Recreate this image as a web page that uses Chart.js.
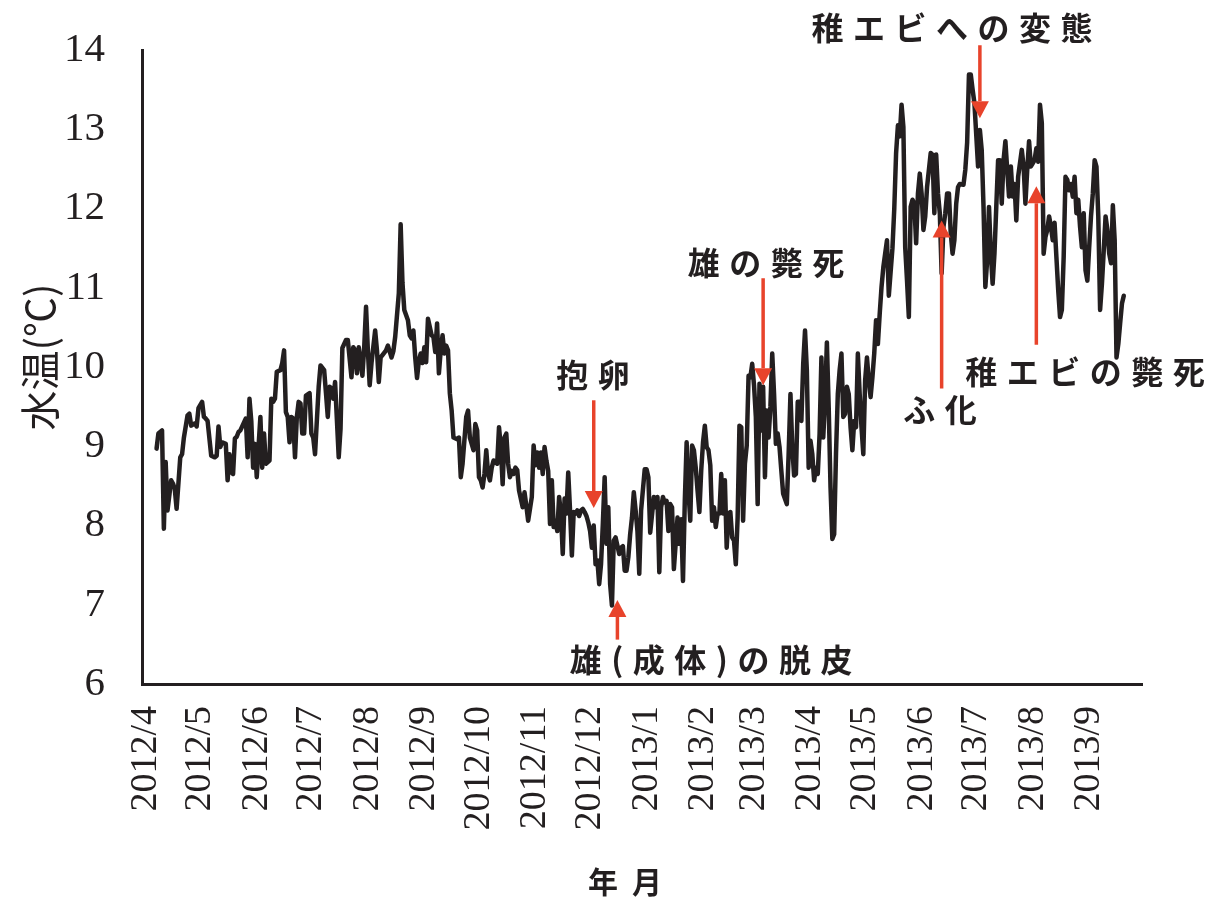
<!DOCTYPE html>
<html>
<head>
<meta charset="utf-8">
<script src="https://cdn.jsdelivr.net/npm/chart.js@4.4.1/dist/chart.umd.min.js"></script>
<style>
  html, body { margin: 0; padding: 0; background: #ffffff; }
  #wrap { width: 1214px; height: 902px; }
</style>
</head>
<body>
<div id="wrap"><canvas id="c" width="1214" height="902"></canvas></div>
<script>
// Daily water temperature, April 2012 – September 2013.
// Day numbers count from 2012/4/1 (day 0).
const SERIES_START = Date.UTC(2012, 3, 1);

const monthLabels = ['2012/4','2012/5','2012/6','2012/7','2012/8','2012/9','2012/10','2012/11','2012/12',
                     '2013/1','2013/2','2013/3','2013/4','2013/5','2013/6','2013/7','2013/8','2013/9'];

const yTickValues = [6, 7, 8, 9, 10, 11, 12, 13, 14];

const dayIndex = [
  6,7,9,10,11,12,14,15,16,17,19,20,21,23,24,25,27,28,29,31,32,33,34,36,38,39,40,41,42,44,45,46,47,48,49,50,
  51,52,54,55,56,57,58,59,60,61,62,63,64,65,66,68,69,70,71,72,74,75,76,77,78,79,80,81,82,83,84,85,86,87,88,90,
  91,92,93,95,96,98,99,100,101,102,103,104,106,107,108,110,111,113,114,115,116,117,119,120,121,122,123,124,126,127,128,129,130,132,
  133,135,136,137,139,140,141,142,144,145,146,147,148,149,150,151,152,153,154,155,157,158,159,160,161,162,163,164,165,166,167,168,
  169,171,172,173,174,176,177,178,180,181,182,183,184,185,186,187,188,189,190,191,193,194,195,196,197,198,199,200,201,202,203,204,
  205,207,208,209,210,211,212,213,214,215,216,217,218,219,220,221,222,223,224,225,226,227,228,229,230,231,232,233,234,235,236,237,
  238,239,240,241,242,243,244,245,246,247,248,249,250,251,252,253,254,255,256,257,258,260,261,262,263,264,265,266,267,268,269,270,
  271,272,274,275,276,277,279,280,281,282,283,284,285,286,287,288,289,290,292,293,294,295,296,297,298,299,300,301,302,303,304,305,
  306,307,308,309,310,311,312,313,314,315,316,317,318,319,320,321,322,323,324,325,326,327,328,329,330,331,332,333,334,335,336,337,
  338,339,340,341,342,343,344,345,346,347,348,349,350,352,353,354,355,356,357,358,359,360,361,362,363,364,365,366,367,368,369,370,
  371,372,373,374,375,376,377,378,379,380,381,382,383,384,385,386,387,388,389,390,391,392,393,394,395,396,397,398,399,400,401,402,
  403,404,405,406,407,408,410,411,412,413,414,415,416,417,418,419,420,421,422,423,424,425,426,427,428,429,431,432,433,434,435,436,
  437,438,439,440,441,442,443,444,445,446,447,449,450,451,452,453,454,455,457,458,459,460,461,462,463,464,465,466,467,468,469,470,
  471,472,473,474,475,476,477,478,479,481,482,483,484,485,486,487,488,489,490,491,492,493,494,495,496,497,498,499,500,501,502,503,
  504,505,506,507,508,509,510,511,512,513,514,515,516,517,518,519,520,521,522,523,524,525,526,527,528,529,530,531,532,533,534,535,
  536,537
];

const waterTemp = [
  8.97,9.16,9.20,7.96,8.80,8.19,8.57,8.53,8.46,8.21,8.86,8.90,9.11,9.39,9.41,9.26,9.29,9.25,9.48,9.56,9.37,9.35,9.32,8.88,8.86,8.88,9.25,8.99,9.05,9.03,8.57,8.90,8.67,8.65,9.10,9.12,
  9.18,9.20,9.30,9.35,8.86,9.60,9.32,8.73,9.03,8.61,9.00,9.37,8.73,9.16,8.78,8.82,9.60,9.56,9.60,9.94,9.96,10.05,10.21,9.43,9.37,9.05,9.37,9.35,8.86,9.37,9.56,9.54,9.16,9.16,9.64,9.67,
  9.16,9.11,8.90,9.75,10.02,9.96,9.67,9.37,9.75,9.73,9.60,9.81,8.86,9.22,10.24,10.34,10.34,9.87,10.25,10.21,9.92,10.25,9.89,10.25,10.76,10.21,9.77,10.05,10.46,10.21,9.81,10.12,10.15,10.21,
  10.27,10.12,10.20,10.38,10.93,11.80,11.06,10.72,10.59,10.40,10.36,10.46,10.12,9.86,10.08,10.17,10.05,10.25,10.06,10.61,10.40,10.38,10.19,10.55,9.92,10.21,10.40,10.17,10.27,10.21,9.67,9.45,
  9.11,9.09,9.11,8.61,8.78,9.37,9.45,9.11,8.95,9.28,9.20,8.61,8.57,8.48,8.65,8.95,8.65,8.57,8.73,8.82,8.78,9.24,8.99,8.52,9.11,9.16,8.78,8.61,8.69,8.65,8.73,8.70,
  8.44,8.23,8.42,8.25,8.06,8.21,8.36,9.01,8.76,8.92,8.73,8.92,8.65,8.99,8.82,8.69,8.02,8.57,7.98,8.06,7.93,8.36,8.15,7.64,8.34,8.15,8.67,8.19,7.62,8.17,8.15,8.19,
  8.12,8.19,8.21,8.17,8.12,8.04,7.93,7.72,8.00,7.51,7.56,7.26,7.51,8.02,8.61,7.77,8.23,7.26,6.99,7.81,7.85,7.64,7.72,7.74,7.43,7.43,7.60,7.89,8.10,8.42,8.19,7.93,
  7.39,8.19,8.71,8.71,8.61,7.91,8.36,8.23,8.36,7.41,8.23,8.36,8.29,8.31,7.93,8.27,8.23,7.45,8.10,7.77,8.08,7.30,8.31,9.05,8.44,8.06,9.01,8.95,8.73,8.44,8.17,8.69,
  9.05,9.26,8.99,8.95,8.76,8.06,8.23,7.98,8.15,8.15,8.65,8.15,8.57,7.72,8.15,8.17,7.85,7.81,7.51,8.10,9.26,9.24,8.06,8.78,9.01,9.89,9.87,10.04,9.77,9.37,8.27,9.79,
  9.20,9.75,8.61,9.45,9.11,9.50,10.17,9.66,9.03,9.16,8.99,8.69,8.40,8.27,8.90,9.66,8.99,8.63,8.65,9.56,9.56,9.32,10.04,10.46,9.96,8.73,9.07,8.90,8.57,8.73,8.65,9.16,
  10.12,9.11,9.58,10.31,9.49,8.48,7.83,7.89,8.90,9.66,9.96,10.17,9.37,9.41,9.75,9.66,9.24,8.95,9.32,9.24,10.17,9.66,9.24,8.90,9.83,10.12,9.83,9.62,9.87,10.17,10.59,10.29,
  10.67,11.01,11.26,11.43,11.60,10.90,11.50,12.00,12.70,13.05,12.91,13.31,13.03,11.51,11.09,10.63,12.02,12.11,12.06,11.56,12.19,12.44,12.19,11.73,11.90,12.27,12.70,12.68,11.94,12.68,12.19,11.94,
  11.18,11.77,11.94,12.19,12.19,11.69,11.43,11.60,12.06,12.27,12.31,12.30,12.49,12.83,13.69,13.69,13.50,13.33,12.53,12.99,12.74,12.02,11.01,11.35,12.02,11.43,11.05,11.43,12.02,12.61,12.61,12.06,
  12.61,12.85,12.49,12.15,12.53,12.15,12.31,11.85,12.40,12.74,12.53,12.06,12.49,12.85,12.53,12.57,12.61,12.76,12.59,13.31,13.08,11.43,11.64,11.73,11.90,11.77,11.60,11.82,11.39,10.97,10.63,10.72,
  11.39,12.40,12.36,12.23,12.31,12.15,12.40,11.94,12.11,11.77,11.51,11.94,11.22,11.09,11.51,11.90,12.19,12.61,12.53,11.90,10.72,11.05,11.47,11.90,11.73,11.43,11.31,12.04,11.60,10.12,10.29,10.55,
  10.80,10.90
];

// Life-history events marked with arrows: day of the event, arrow tip and tail temperatures.
const eventText = ['稚エビへの変態', '雄の斃死', '抱卵', '雄(成体)の脱皮', 'ふ化', '稚エビの斃死'];
const eventDay  = [458, 339, 246, 259, 437, 489];
const arrowTip  = [13.14, 9.77, 8.22, 7.06, 11.85, 12.28];
const arrowTail = [14.06, 11.12, 9.58, 6.56, 9.73, 10.28];

// Where each event caption sits (day, temperature units).
const captionDay  = [442.7, 340.6, 245.6, 310.4, 436.1, 515.7];
const captionTemp = [14.28, 11.32, 9.90, 6.30, 9.46, 9.94];

const monthStartDays = monthLabels.map(s => {
  const [y, m] = s.split('/').map(Number);
  return Math.round((Date.UTC(y, m - 1, 1) - SERIES_START) / 86400000);
});

const INK = '#231f20';
const RED = '#e8432b';
const JP = '"Noto Sans CJK JP", "Noto Sans", sans-serif';
const SERIF = '"Liberation Serif", "DejaVu Serif", serif';

function spacedText(ctx, text, cx, cy, spacing) {
  ctx.letterSpacing = spacing + 'px';
  const w = ctx.measureText(text).width - spacing;
  ctx.textAlign = 'left';
  ctx.fillText(text, cx - w / 2, cy);
  ctx.letterSpacing = '0px';
}

const overlayPlugin = {
  id: 'overlay',
  afterDatasetsDraw(chart) {
    const ctx = chart.ctx;
    const xs = chart.scales.x, ys = chart.scales.y;
    ctx.save();
    // arrows
    eventDay.forEach((d, i) => {
      const x = xs.getPixelForValue(d);
      const yTip = ys.getPixelForValue(arrowTip[i]);
      const yTail = ys.getPixelForValue(arrowTail[i]);
      const dir = yTip > yTail ? 1 : -1;
      const head = 17, half = 9;
      ctx.strokeStyle = RED;
      ctx.fillStyle = RED;
      ctx.lineWidth = 3.5;
      ctx.beginPath();
      ctx.moveTo(x, yTail);
      ctx.lineTo(x, yTip - dir * head);
      ctx.stroke();
      ctx.beginPath();
      ctx.moveTo(x, yTip);
      ctx.lineTo(x - half, yTip - dir * head);
      ctx.lineTo(x + half, yTip - dir * head);
      ctx.closePath();
      ctx.fill();
    });
    // captions
    ctx.fillStyle = INK;
    ctx.textBaseline = 'middle';
    ctx.font = '700 32px ' + JP;
    eventText.forEach((t, i) => {
      const x = xs.getPixelForValue(captionDay[i]);
      const y = ys.getPixelForValue(captionTemp[i]);
      spacedText(ctx, t, x, y, 9.5);
    });
    // axis titles
    ctx.font = '700 30px ' + JP;
    spacedText(ctx, '年月', xs.left + (xs.right - xs.left) * 0.483, 882, 14);
    ctx.save();
    ctx.translate(40, (ys.top + ys.bottom) / 2 - 10);
    ctx.rotate(-Math.PI / 2);
    ctx.font = '400 40px ' + JP;
    ctx.textAlign = 'center';
    ctx.fillText('水温(℃)', 0, 0);
    ctx.restore();
    ctx.restore();
  }
};

new Chart(document.getElementById('c'), {
  type: 'line',
  data: {
    datasets: [{
      data: dayIndex.map((d, i) => ({ x: d, y: waterTemp[i] })),
      borderColor: INK,
      borderWidth: 4.5,
      pointRadius: 0,
      tension: 0,
      borderJoinStyle: 'round',
      borderCapStyle: 'round',
      fill: false
    }]
  },
  options: {
    responsive: false,
    animation: false,
    events: [],
    layout: { padding: { top: 50, right: 72, bottom: 0, left: 0 } },
    plugins: { legend: { display: false }, tooltip: { enabled: false } },
    scales: {
      x: {
        type: 'linear',
        min: -2,
        max: 547,
        grid: { display: false, drawTicks: false },
        border: { display: true, color: INK, width: 3 },
        afterBuildTicks(scale) { scale.ticks = monthStartDays.map(v => ({ value: v })); },
        afterFit(scale) { scale.height = 218; scale.paddingLeft = 0; scale.paddingRight = 0; },
        ticks: {
          autoSkip: false,
          minRotation: 90,
          maxRotation: 90,
          padding: 22,
          color: INK,
          font: { family: SERIF, size: 38 },
          callback: (v, i) => monthLabels[i]
        }
      },
      y: {
        type: 'linear',
        min: yTickValues[0],
        max: yTickValues[yTickValues.length - 1],
        grid: { display: false, drawTicks: false },
        border: { display: true, color: INK, width: 3 },
        afterBuildTicks(scale) { scale.ticks = yTickValues.map(v => ({ value: v })); },
        afterFit(scale) { scale.width = 142; scale.paddingTop = 0; scale.paddingBottom = 0; },
        ticks: {
          padding: 37,
          color: INK,
          font: { family: SERIF, size: 41 },
          callback: v => String(v)
        }
      }
    }
  },
  plugins: [overlayPlugin]
});
</script>
</body>
</html>
